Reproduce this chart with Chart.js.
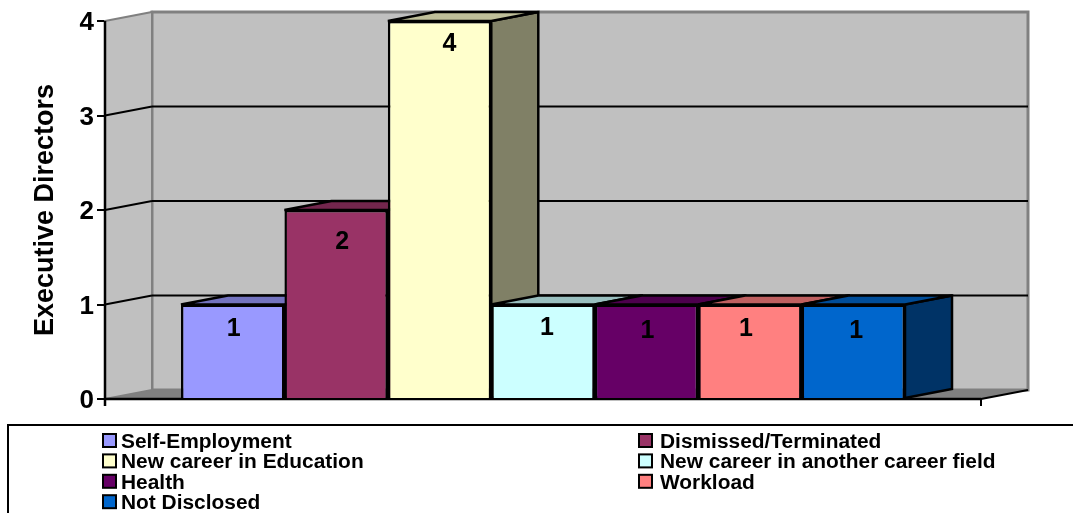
<!DOCTYPE html>
<html>
<head>
<meta charset="utf-8">
<title>Executive Directors</title>
<script src="https://cdn.jsdelivr.net/npm/chart.js@4/dist/chart.umd.min.js"></script>
<style>
  html, body { margin: 0; padding: 0; background: #fff; overflow: hidden; }
  #wrap { width: 1073px; height: 513px; }
</style>
</head>
<body>
<div id="wrap"><canvas id="exitChart" width="1073" height="513"></canvas></div>
<script>
// Data
const categories = [''];
const seriesNames = ['Self-Employment', 'Dismissed/Terminated', 'New career in Education',
  'New career in another career field', 'Health', 'Workload', 'Not Disclosed'];
const seriesValues = [1, 2, 4, 1, 1, 1, 1];
const yTicks = [0, 1, 2, 3, 4];

// Colours: front, side, top
const frontColors = ['#9999FF', '#993366', '#FFFFCC', '#CCFFFF', '#660066', '#FF8080', '#0066CC'];
const sideColors = ['#4D4D80', '#4D1A33', '#808066', '#668080', '#330033', '#804040', '#003366'];
const topColors = ['#7373BF', '#73264D', '#BFBF99', '#99BFBF', '#4D004D', '#BF6060', '#004D99'];

// Nudge of the value labels inside the bars
const labelNudgeX = [1, 6, 10, 4, 1, -4, 3];
const labelNudgeY = [3, 10, 1, 2, 5, 3, 5];

// Depth of the fake 3D box
const depthX = 47;
const depthY = -9;

const box3d = {
  id: 'box3d',
  beforeDatasetsDraw(chart) {
    const c = chart.ctx;
    const y = chart.scales.y;
    const a = chart.chartArea;
    const poly = (pts, fill, stroke, lw) => {
      c.beginPath();
      pts.forEach((p, i) => i ? c.lineTo(p[0], p[1]) : c.moveTo(p[0], p[1]));
      c.closePath();
      if (fill) { c.fillStyle = fill; c.fill(); }
      if (stroke) { c.strokeStyle = stroke; c.lineWidth = lw; c.stroke(); }
    };
    const line = (x1, y1, x2, y2, color, lw) => {
      c.beginPath();
      c.moveTo(x1, y1);
      c.lineTo(x2, y2);
      c.strokeStyle = color;
      c.lineWidth = lw;
      c.stroke();
    };

    c.save();
    c.lineJoin = 'miter';
    // back wall, left wall, floor
    poly([[a.left + depthX, a.top + depthY], [a.right + depthX, a.top + depthY],
      [a.right + depthX, a.bottom + depthY], [a.left + depthX, a.bottom + depthY]], '#C0C0C0', '#808080', 3);
    poly([[a.left, a.top], [a.left + depthX, a.top + depthY],
      [a.left + depthX, a.bottom + depthY], [a.left, a.bottom]], '#C0C0C0', '#808080', 2);
    poly([[a.left, a.bottom], [a.left + depthX, a.bottom + depthY],
      [a.right + depthX, a.bottom + depthY], [a.right, a.bottom]], '#808080');

    // gridlines
    yTicks.forEach(v => {
      if (v === 0 || v === 4) return;
      const py = y.getPixelForValue(v);
      line(a.left, py, a.left + depthX, py + depthY, '#000', 2);
      line(a.left + depthX, py + depthY, a.right + depthX, py + depthY, '#000', 2);
    });

    // axis lines
    line(a.left, a.top, a.left, a.bottom + 7, '#000', 2.5);
    line(a.left, a.bottom, a.right, a.bottom, '#000', 2.5);
    line(a.right, a.bottom, a.right + depthX, a.bottom + depthY, '#000', 2);
    line(a.right, a.bottom, a.right, a.bottom + 7, '#000', 2);

    // sides and tops of the bars, left to right
    seriesValues.forEach((v, i) => {
      const bar = chart.getDatasetMeta(i).data[0];
      const l = bar.x - bar.width / 2;
      const r = bar.x + bar.width / 2;
      poly([[r, bar.y], [r + depthX, bar.y + depthY], [r + depthX, bar.base + depthY], [r, bar.base]],
        sideColors[i], '#000', 2.5);
      poly([[l, bar.y], [l + depthX, bar.y + depthY], [r + depthX, bar.y + depthY], [r, bar.y]],
        topColors[i], '#000', 2.5);
    });
    c.restore();
  },
  afterDatasetsDraw(chart) {
    const c = chart.ctx;
    c.save();
    // value labels
    c.font = 'bold 25px "Liberation Sans"';
    c.fillStyle = '#000';
    c.textAlign = 'center';
    c.textBaseline = 'middle';
    seriesValues.forEach((v, i) => {
      const bar = chart.getDatasetMeta(i).data[0];
      c.fillText(String(v), bar.x + labelNudgeX[i], bar.y + 22 + labelNudgeY[i]);
    });

    // legend, two columns
    c.strokeStyle = '#000';
    c.lineWidth = 2;
    c.beginPath();
    c.moveTo(1073, 425);
    c.lineTo(8, 425);
    c.lineTo(8, 513);
    c.stroke();
    c.font = 'bold 20.9px "Liberation Sans"';
    c.textAlign = 'left';
    seriesNames.forEach((name, i) => {
      const col = i % 2;
      const row = Math.floor(i / 2);
      const sx = col ? 639 : 103;
      const cy = 441 + row * 20.4;
      c.fillStyle = frontColors[i];
      c.fillRect(sx, cy - 7, 13, 13);
      c.strokeRect(sx, cy - 7, 13, 13);
      c.fillStyle = '#000';
      c.fillText(name, col ? 660 : 121, cy + 1);
    });
    c.restore();
  }
};

new Chart(document.getElementById('exitChart'), {
  type: 'bar',
  data: {
    labels: categories,
    datasets: seriesNames.map((name, i) => ({
      label: name,
      data: [seriesValues[i]],
      backgroundColor: frontColors[i],
      borderColor: '#000',
      borderWidth: 2.5,
      categoryPercentage: 0.8265,
      barPercentage: 1
    }))
  },
  options: {
    responsive: false,
    animation: false,
    layout: { padding: { top: 21, right: 92, bottom: 114, left: 0 } },
    plugins: { legend: { display: false }, tooltip: { enabled: false } },
    scales: {
      x: { display: false },
      y: {
        min: 0,
        max: 4,
        afterFit(scale) { scale.width = 105; },
        ticks: {
          stepSize: 1,
          color: '#000',
          padding: 3,
          labelOffset: 2,
          font: { family: '"Liberation Sans"', size: 26, weight: 'bold' }
        },
        grid: { drawOnChartArea: false, drawTicks: true, tickLength: 8, color: '#000', lineWidth: 2 },
        border: { display: false },
        title: {
          display: true,
          text: 'Executive Directors',
          color: '#000',
          padding: { top: 29, bottom: 0 },
          font: { family: '"Liberation Sans"', size: 27, weight: 'bold' }
        }
      }
    }
  },
  plugins: [box3d]
});
</script>
</body>
</html>
